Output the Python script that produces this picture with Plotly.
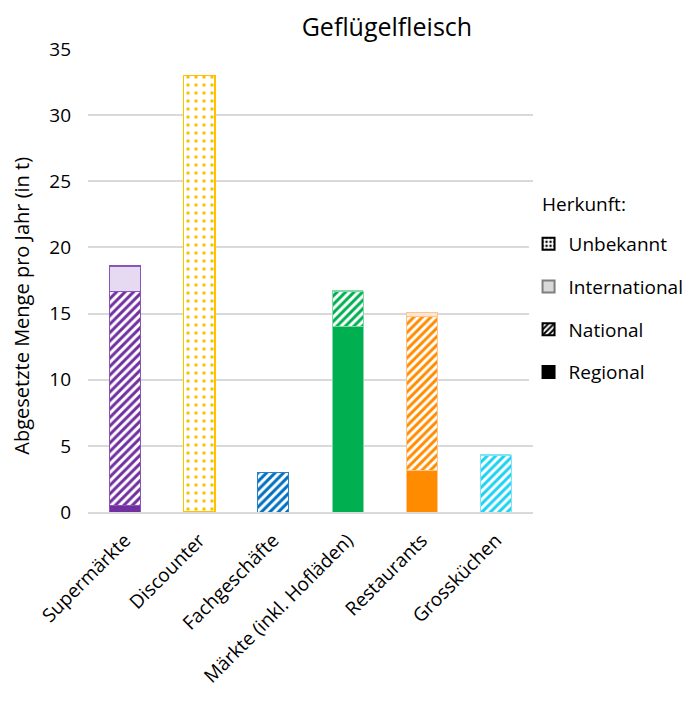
import plotly.graph_objects as go

categories = ["Supermärkte", "Discounter", "Fachgeschäfte", "Märkte (inkl. Hofläden)", "Restaurants", "Grossküchen"]
regional = [0.5, 0, 0, 14.0, 3.1, 0]
national = [16.2, 0, 3.0, 2.7, 11.7, 4.3]
international = [1.9, 0, 0, 0, 0.3, 0]
unbekannt = [0, 33.0, 0, 0, 0, 0]

# one colour per sales channel
base_colors = ["#7030A0", "#FFC000", "#0070C0", "#00B050", "#FF8C00", "#1ED2F0"]
light_colors = ["#E6DAF2", "#FFF2CC", "#DDEBF7", "#E2F0D9", "#FCE4D6", "#DDF6FC"]
border_colors = ["#8A55B8", "#FFC000", "#2A80CC", "#7FD8A8", "#FFC58A", "#7FE3F5"]

font = "Open Sans, Liberation Sans, sans-serif"

fig = go.Figure()

# Regional: solid fill
fig.add_trace(go.Bar(
    x=categories, y=regional, showlegend=False,
    marker=dict(color=base_colors, line=dict(color=border_colors, width=1)),
))
# National: diagonal stripes
fig.add_trace(go.Bar(
    x=categories, y=national, showlegend=False,
    marker=dict(color="white", line=dict(color=border_colors, width=1),
                pattern=dict(shape="/", fgcolor=base_colors, bgcolor="white", fgopacity=1,
                             fillmode="replace", size=6, solidity=0.5)),
))
# International: light fill
fig.add_trace(go.Bar(
    x=categories, y=international, showlegend=False,
    marker=dict(color=light_colors, line=dict(color=border_colors, width=1)),
))
# Unbekannt: dots
fig.add_trace(go.Bar(
    x=categories, y=unbekannt, showlegend=False,
    marker=dict(color="white", line=dict(color=border_colors, width=1.5),
                pattern=dict(shape=".", fgcolor=base_colors, bgcolor="white", fgopacity=1,
                             fillmode="replace", size=8, solidity=0.15)),
))

# legend-only entries with neutral swatches (top to bottom)
legend_items = [
    ("Unbekannt", dict(color="white", line=dict(color="black", width=1),
                       pattern=dict(shape=".", fgcolor="black", bgcolor="white", fgopacity=1,
                                    fillmode="replace", size=5, solidity=0.3))),
    ("International", dict(color="#D9D9D9", line=dict(color="#7F7F7F", width=1))),
    ("National", dict(color="white", line=dict(color="black", width=1),
                      pattern=dict(shape="/", fgcolor="black", bgcolor="white", fgopacity=1,
                                   fillmode="replace", size=5, solidity=0.5))),
    ("Regional", dict(color="black", line=dict(color="black", width=1))),
]
for name, mk in legend_items:
    fig.add_trace(go.Bar(x=[categories[0]], y=[None], name=name, legendgroup=name,
                         marker=mk, showlegend=True))

fig.update_layout(
    barmode="stack",
    bargap=0.58,
    width=694, height=704,
    margin=dict(l=80, r=169, t=41, b=200, autoexpand=False),
    paper_bgcolor="white", plot_bgcolor="white",
    font=dict(family=font, size=17, color="black"),
    title=dict(text="Geflügelfleisch", x=0.546, xref="container", xanchor="center",
               y=0.972, yref="container", yanchor="middle",
               font=dict(size=25, color="black")),
    legend=dict(
        traceorder="grouped",
        x=0.99, xanchor="left", y=0.62, yanchor="top",
        font=dict(size=19), itemsizing="constant", tracegroupgap=15,
    ),
    annotations=[
        dict(text="Herkunft:", xref="paper", yref="paper", x=1.016, y=0.665,
             xanchor="left", yanchor="middle", showarrow=False, font=dict(size=19)),
        dict(text="Abgesetzte Menge pro Jahr (in t)", xref="paper", yref="paper",
             x=-0.149, y=0.445, xanchor="center", yanchor="middle", textangle=-90,
             showarrow=False, font=dict(size=20)),
    ],
    yaxis=dict(
        range=[0, 35], dtick=5, showgrid=True, gridcolor="#D9D9D9", gridwidth=1.5,
        zeroline=False, showline=False, ticks="", ticklabelstandoff=16, automargin=False,
        tickfont=dict(size=19),
    ),
    xaxis=dict(
        tickangle=-45, showline=True, linecolor="#D9D9D9", linewidth=1.5, ticks="",
        tickfont=dict(size=19), ticklabelstandoff=8, automargin=False,
    ),
)

fig.write_html("out.html")
